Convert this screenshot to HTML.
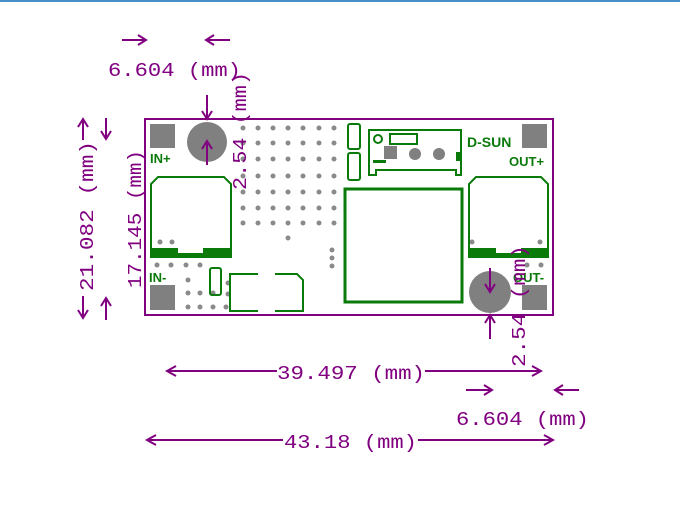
<!DOCTYPE html>
<html><head><style>body{margin:0;background:#fff}svg{display:block}</style></head><body>
<svg width="680" height="526" viewBox="0 0 680 526" xmlns="http://www.w3.org/2000/svg" font-family="Liberation Mono, monospace">
<rect x="0" y="0" width="680" height="2" fill="#4a8fc8"/>
<rect x="145" y="119" width="408" height="196" fill="#fff" stroke="#800080" stroke-width="2"/>
<g fill="#808080">
<rect x="150" y="124" width="25" height="24"/><rect x="522" y="124" width="25" height="24"/>
<rect x="150" y="285" width="25" height="25"/><rect x="522" y="285" width="25" height="25"/>
<circle cx="207" cy="142" r="20"/><circle cx="490" cy="292" r="21"/>
</g>
<g fill="#8a8a8a">
<g id="row">
<circle cx="243" cy="128" r="2.5"/><circle cx="258" cy="128" r="2.5"/><circle cx="273" cy="128" r="2.5"/><circle cx="288" cy="128" r="2.5"/><circle cx="303" cy="128" r="2.5"/><circle cx="319" cy="128" r="2.5"/><circle cx="334" cy="128" r="2.5"/>
</g>
<use href="#row" y="15"/><use href="#row" y="31"/><use href="#row" y="48"/><use href="#row" y="64"/><use href="#row" y="80"/><use href="#row" y="95"/>
<circle cx="288" cy="238" r="2.5"/><circle cx="332" cy="250" r="2.5"/><circle cx="332" cy="258" r="2.5"/><circle cx="332" cy="266" r="2.5"/>
<circle cx="160" cy="242" r="2.5"/><circle cx="172" cy="242" r="2.5"/><circle cx="472" cy="242" r="2.5"/><circle cx="540" cy="242" r="2.5"/>
<circle cx="157" cy="265" r="2.5"/><circle cx="171" cy="265" r="2.5"/><circle cx="186" cy="265" r="2.5"/><circle cx="200" cy="265" r="2.5"/>
<circle cx="188" cy="280" r="2.5"/><circle cx="188" cy="293" r="2.5"/><circle cx="200" cy="293" r="2.5"/><circle cx="213" cy="293" r="2.5"/>
<circle cx="188" cy="307" r="2.5"/><circle cx="200" cy="307" r="2.5"/><circle cx="213" cy="307" r="2.5"/><circle cx="226" cy="307" r="2.5"/>
<circle cx="228" cy="283" r="2.5"/><circle cx="228" cy="294" r="2.5"/><circle cx="527" cy="265" r="2.5"/><circle cx="541" cy="265" r="2.5"/>
</g>
<g fill="none" stroke="#0a7a0a" stroke-width="2">
<path d="M151 258 V184 L158 177 H224 L231 184 V258"/>
<path d="M469 258 V184 L476 177 H541 L548 184 V258"/>
<rect x="345" y="189" width="117" height="113" stroke-width="3"/>
<path d="M369 130 H461 V175 H456 V170 H376 V175 H369 Z"/>
<circle cx="378" cy="139" r="4"/>
<rect x="390" y="134" width="27" height="10"/>
<rect x="348" y="124" width="12" height="25" rx="2"/>
<rect x="348" y="153" width="12" height="27" rx="2"/>
<rect x="210" y="268" width="11" height="27" rx="2"/>
<path d="M258 274 H230 V311 H258 M275 311 H303 V280 L297 274 H275"/>
</g>
<g fill="#0a7a0a">
<path d="M151 248 H178 V253 H203 V248 H231 V258 H151 Z"/>
<path d="M469 248 H496 V253 H521 V248 H548 V258 H469 Z"/>
<rect x="456" y="152" width="4" height="9"/><rect x="373" y="160" width="13" height="3"/>
<rect x="384" y="146" width="13" height="13" fill="#808080"/>
<circle cx="415" cy="154" r="6" fill="#808080"/><circle cx="439" cy="154" r="6" fill="#808080"/>
</g>
<g fill="#0a7a0a" font-family="Liberation Sans, sans-serif" font-weight="bold" font-size="13">
<text x="150" y="163">IN+</text><text x="467" y="147" font-size="14">D-SUN</text><text x="509" y="166">OUT+</text>
<text x="149" y="282">IN-</text><text x="513" y="282">OUT-</text>
</g>
<g stroke="#800080" stroke-width="2" fill="none">
<path d="M167 371 H277 M425 371 H541"/>
<path d="M176 366 L167 371 L176 376 M532 366 L541 371 L532 376"/>
<path d="M147 440 H283 M418 440 H553"/>
<path d="M156 435 L147 440 L156 445 M544 435 L553 440 L544 445"/>
<path d="M466 390 H492 M484 385 L492 390 L484 395"/>
<path d="M555 390 H579 M563 385 L555 390 L563 395"/>
<path d="M122 40 H146 M138 35 L146 40 L138 45"/>
<path d="M206 40 H230 M214 35 L206 40 L214 45"/>
<path d="M207 95 V119 M202 111 L207 119 L212 111"/>
<path d="M207 141 V165 M202 149 L207 141 L212 149"/>
<path d="M490 268 V292 M485 284 L490 292 L495 284"/>
<path d="M490 315 V339 M485 323 L490 315 L495 323"/>
<path d="M83 119 V140 M78 127 L83 119 L88 127"/>
<path d="M106 118 V139 M101 131 L106 139 L111 131"/>
<path d="M83 296 V318 M78 310 L83 318 L88 310"/>
<path d="M106 298 V320 M101 306 L106 298 L111 306"/>
</g>
<g fill="#800080" font-size="19">
<text x="277" y="379" textLength="148" lengthAdjust="spacingAndGlyphs">39.497 (mm)</text>
<text x="284" y="448" textLength="133" lengthAdjust="spacingAndGlyphs">43.18 (mm)</text>
<text x="456" y="425" textLength="133" lengthAdjust="spacingAndGlyphs">6.604 (mm)</text>
<text x="108" y="76" textLength="133" lengthAdjust="spacingAndGlyphs">6.604 (mm)</text>
<text transform="translate(93,291) rotate(-90)" textLength="150" lengthAdjust="spacingAndGlyphs">21.082 (mm)</text>
<text transform="translate(141,288) rotate(-90)" textLength="138" lengthAdjust="spacingAndGlyphs">17.145 (mm)</text>
<text transform="translate(246,190) rotate(-90)" textLength="118" lengthAdjust="spacingAndGlyphs">2.54 (mm)</text>
<text transform="translate(525,367) rotate(-90)" textLength="122" lengthAdjust="spacingAndGlyphs">2.54 (mm)</text>
</g>
</svg>
</body></html>
